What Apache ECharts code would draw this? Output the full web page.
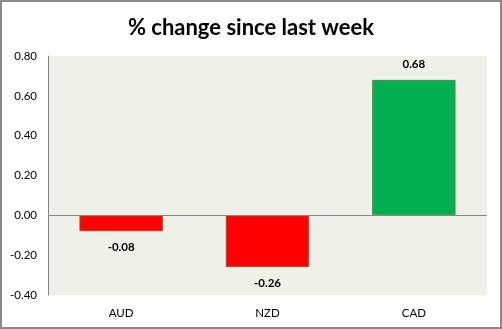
<!DOCTYPE html>
<html><head><meta charset="utf-8">
<script src="https://cdn.jsdelivr.net/npm/echarts@6/dist/echarts.min.js"></script>
<style>html,body{margin:0;padding:0;background:#fff}#c{width:502px;height:329px}</style>
</head><body><div id="c"></div>
<script>
const categories = ['AUD', 'NZD', 'CAD'];
const values = [-0.08, -0.26, 0.68];
const yTicks = { min: -0.4, max: 0.8, interval: 0.2 };
const title = '% change since last week';

const chart = echarts.init(document.getElementById('c'), null, { renderer: 'canvas' });
const FONT = 'Lato, "Open Sans", sans-serif';
chart.setOption({
  animation: false,
  backgroundColor: '#ffffff',
  title: {
    text: title, left: 'center', top: 12,
    textStyle: { fontFamily: FONT, fontWeight: 'bold', fontSize: 22, color: '#000' }
  },
  grid: { left: 48, top: 56, right: 15, bottom: 34, show: true, backgroundColor: '#EFF0E7', borderWidth: 0 },
  xAxis: {
    type: 'category', data: categories,
    axisLine: { show: false }, axisTick: { show: false },
    axisLabel: { fontFamily: FONT, fontSize: 11.5, color: '#000', margin: 12 }
  },
  yAxis: {
    type: 'value', min: yTicks.min, max: yTicks.max, interval: yTicks.interval,
    axisLine: { show: true, lineStyle: { color: '#868686', width: 1 } },
    axisTick: { show: false }, splitLine: { show: false },
    axisLabel: { fontFamily: FONT, fontSize: 11.5, color: '#000', margin: 11, formatter: v => v.toFixed(2) }
  },
  series: [{
    type: 'bar', barWidth: '57%',
    data: values.map(v => ({
      value: v,
      itemStyle: v < 0 ? { color: '#FF0000', borderColor: '#A0522D', borderWidth: 1 }
                       : { color: '#00B050', borderColor: '#4F8F4F', borderWidth: 1 }
    })),
    label: {
      show: true, position: 'outside', distance: 10,
      fontFamily: FONT, fontWeight: 'bold', fontSize: 11.5, color: '#000',
      formatter: p => p.value.toFixed(2)
    },
    markLine: {
      silent: true, symbol: 'none', label: { show: false },
      lineStyle: { color: '#868686', width: 1, type: 'solid' },
      data: [{ yAxis: 0 }]
    }
  }],
  graphic: [{
    type: 'rect', shape: { x: 1, y: 1, width: 500, height: 327 },
    style: { fill: 'none', stroke: '#8a8a8a', lineWidth: 2 }, z: 100
  }]
});
</script></body></html>
